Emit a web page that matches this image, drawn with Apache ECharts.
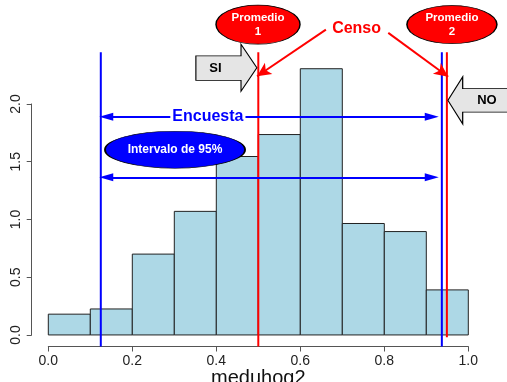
<!DOCTYPE html>
<html>
<head>
<meta charset="utf-8">
<script src="https://cdn.jsdelivr.net/npm/echarts@6/dist/echarts.min.js"></script>
<style>
html, body { margin: 0; padding: 0; background: #fff; }
#chart { width: 507px; height: 382px; }
</style>
</head>
<body>
<div id="chart"></div>
<script>
// histograma de meduhog2 (densidad)
var binEdges = [0.0, 0.1, 0.2, 0.3, 0.4, 0.5, 0.6, 0.7, 0.8, 0.9, 1.0];
var density = [0.18, 0.225, 0.70, 1.07, 1.545, 1.735, 2.305, 0.965, 0.895, 0.39];

// intervalo de 95% de la encuesta (azul) y promedios del censo (rojo)
var ciBounds = [0.125, 0.937];
var censoMeans = [0.5, 0.949];
var vLineTop = 2.447;
var vLineBottom = [-0.1, -0.1, -0.1, -0.02];

// flechas horizontales azules
var arrowY = [1.89, 1.365];
var arrowX = [0.138, 0.913];

// flechas rojas desde "Censo"
var censoArrows = [
  [[0.661, 2.643], [0.497, 2.24]],
  [[0.8095, 2.615], [0.952, 2.236]]
];

// rotulos (posicion en unidades de los ejes)
var encuestaPos = [0.38, 1.89];
var intervaloPos = [0.3017, 1.604];
var promedioPos = [[0.4993, 2.687], [0.961, 2.687]];
var censoPos = [0.734, 2.655];
var siPos = [0.424, 2.314];
var noPos = [1.0395, 2.031];

var FONT = "'Liberation Sans', Arial, Helvetica, sans-serif";

var chart = echarts.init(document.getElementById('chart'));

var bars = [];
for (var i = 0; i < density.length; i++) {
  bars.push([binEdges[i], binEdges[i + 1], density[i]]);
}

function vLine(x, bottom, color) {
  return {
    type: 'line',
    xAxisIndex: 0, yAxisIndex: 0,
    data: [[x, bottom], [x, vLineTop]],
    symbol: 'none',
    lineStyle: { color: color, width: 2 },
    silent: true,
    animation: false,
    z: 3
  };
}

var option = {
  animation: false,
  textStyle: { fontFamily: FONT },
  grid: [
    { left: 48.3, width: 420, top: 0, height: 346.5, outerBoundsMode: 'none' },
    { left: 48.3, width: 420, top: 103.95, height: 231, outerBoundsMode: 'none' }
  ],
  xAxis: [{
    gridIndex: 0,
    type: 'value',
    min: 0, max: 1, interval: 0.2,
    axisLine: { show: true, onZero: false, lineStyle: { color: '#555', width: 1 } },
    axisTick: { show: true, length: 5, lineStyle: { color: '#555' } },
    axisLabel: {
      color: '#222', fontSize: 14, margin: 8, fontFamily: FONT,
      formatter: function (v) { return v.toFixed(1); }
    },
    splitLine: { show: false },
    name: 'meduhog2',
    nameLocation: 'middle',
    nameGap: 22,
    nameMoveOverlap: false,
    nameTextStyle: { color: '#111', fontSize: 20, fontFamily: FONT }
  }, {
    gridIndex: 1, type: 'value', min: 0, max: 1, show: false
  }],
  yAxis: [{
    gridIndex: 0, type: 'value', min: -0.1, max: 2.9, show: false
  }, {
    gridIndex: 1,
    type: 'value',
    min: 0, max: 2, interval: 0.5,
    position: 'left',
    offset: 16.6,
    axisLine: { show: true, onZero: false, lineStyle: { color: '#555', width: 1 } },
    axisTick: { show: true, length: 5, lineStyle: { color: '#555' } },
    axisLabel: {
      color: '#222', fontSize: 14, margin: 9, rotate: 90, fontFamily: FONT,
      formatter: function (v) { return v.toFixed(1); }
    },
    splitLine: { show: false }
  }],
  series: [
    {
      // barras del histograma
      type: 'custom',
      xAxisIndex: 0, yAxisIndex: 0,
      data: bars,
      encode: { x: [0, 1], y: 2 },
      z: 2,
      renderItem: function (params, api) {
        var p0 = api.coord([api.value(0), api.value(2)]);
        var p1 = api.coord([api.value(1), 0]);
        return {
          type: 'rect',
          shape: { x: p0[0], y: p0[1], width: p1[0] - p0[0], height: p1[1] - p0[1] },
          style: { fill: '#ADD8E6', stroke: '#222', lineWidth: 1 }
        };
      }
    },
    vLine(ciBounds[0], vLineBottom[0], '#0000FF'),
    vLine(censoMeans[0], vLineBottom[1], '#FF0000'),
    vLine(ciBounds[1], vLineBottom[2], '#0000FF'),
    vLine(censoMeans[1], vLineBottom[3], '#FF0000'),
    {
      // flechas azules del intervalo
      type: 'line',
      xAxisIndex: 0, yAxisIndex: 0,
      data: [],
      silent: true,
      z: 4,
      markLine: {
        silent: true,
        animation: false,
        symbol: ['triangle', 'triangle'],
        symbolSize: [8, 14],
        label: { show: false },
        lineStyle: { color: '#0000FF', width: 2, type: 'solid' },
        emphasis: { disabled: true },
        data: arrowY.map(function (y) {
          return [{ coord: [arrowX[0], y] }, { coord: [arrowX[1], y] }];
        })
      }
    },
    {
      // flechas rojas del censo
      type: 'line',
      xAxisIndex: 0, yAxisIndex: 0,
      data: [],
      silent: true,
      z: 4,
      markLine: {
        silent: true,
        animation: false,
        symbol: ['none', 'arrow'],
        symbolSize: [10, 14],
        label: { show: false },
        lineStyle: { color: '#FF0000', width: 2, type: 'solid' },
        emphasis: { disabled: true },
        data: censoArrows.map(function (a) {
          return [{ coord: a[0] }, { coord: a[1] }];
        })
      }
    },
    {
      // elipses, flechas grises y textos
      type: 'scatter',
      xAxisIndex: 0, yAxisIndex: 0,
      clip: false,
      silent: true,
      z: 5,
      itemStyle: { opacity: 1 },
      data: [
        {
          value: encuestaPos, symbolSize: 0,
          label: { show: true, position: 'inside', formatter: 'Encuesta', color: '#0000FF',
            fontSize: 16, fontWeight: 'bold', backgroundColor: '#fff', padding: [0, 2] }
        },
        {
          value: intervaloPos, symbol: 'circle', symbolSize: [140, 37],
          itemStyle: { color: '#0000FF', borderColor: '#000', borderWidth: 1, opacity: 1 },
          label: { show: true, position: 'inside', formatter: 'Intervalo de 95%', color: '#fff',
            fontSize: 12, fontWeight: 'bold' }
        },
        {
          value: promedioPos[0], symbol: 'circle', symbolSize: [84, 39],
          itemStyle: { color: '#FF0000', borderColor: '#000', borderWidth: 1, opacity: 1 },
          label: { show: true, position: 'inside', formatter: 'Promedio\n1', color: '#fff',
            fontSize: 11.5, fontWeight: 'bold', lineHeight: 14 }
        },
        {
          value: promedioPos[1], symbol: 'circle', symbolSize: [90, 38],
          itemStyle: { color: '#FF0000', borderColor: '#000', borderWidth: 1, opacity: 1 },
          label: { show: true, position: 'inside', formatter: 'Promedio\n2', color: '#fff',
            fontSize: 11.5, fontWeight: 'bold', lineHeight: 14 }
        },
        {
          value: censoPos, symbolSize: 0,
          label: { show: true, position: 'inside', formatter: 'Censo', color: '#FF0000',
            fontSize: 16, fontWeight: 'bold' }
        },
        {
          value: siPos,
          symbol: 'path://M0,25L74,25L74,0L100,50L74,100L74,77L0,77Z',
          symbolKeepAspect: false,
          symbolSize: [61, 47],
          itemStyle: { color: '#E5E5E5', borderColor: '#000', borderWidth: 1, opacity: 1 },
          label: { show: true, position: 'inside', formatter: 'SI', color: '#000',
            fontSize: 13, fontWeight: 'bold', offset: [-11, 1] }
        },
        {
          value: noPos,
          symbol: 'path://M0,50L20,0L20,25L100,25L100,75L20,75L20,100Z',
          symbolKeepAspect: false,
          symbolSize: [74, 47],
          itemStyle: { color: '#E5E5E5', borderColor: '#000', borderWidth: 1, opacity: 1 },
          label: { show: true, position: 'inside', formatter: 'NO', color: '#000',
            fontSize: 13, fontWeight: 'bold', offset: [2, 0] }
        }
      ]
    }
  ]
};

chart.setOption(option);
</script>
</body>
</html>
